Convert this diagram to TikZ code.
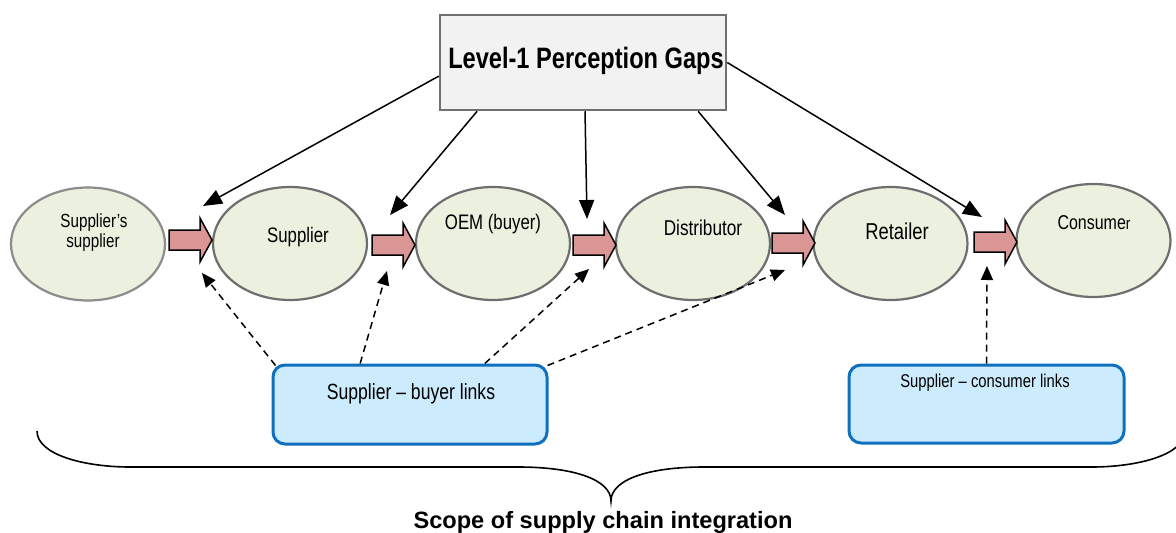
\documentclass[tikz,border=0pt]{standalone}
\usepackage{fontspec}
\setmainfont{Liberation Sans}
\newfontfamily\narrowsans{Liberation Sans}[FakeStretch=0.8]
\usetikzlibrary{arrows.meta,shapes.geometric,calc}

\definecolor{stagefill}{HTML}{EBF1DE}
\definecolor{stageline}{HTML}{6E6E6E}
\definecolor{firstline}{HTML}{8C8C8C}
\definecolor{flowfill}{HTML}{D99694}
\definecolor{gapfill}{HTML}{F2F2F2}
\definecolor{gapline}{HTML}{707070}
\definecolor{linkfill}{HTML}{CCEBFC}
\definecolor{linkline}{HTML}{1070C0}

\tikzset{
  stage/.style={ellipse, draw=stageline, line width=2.2pt, fill=stagefill,
    minimum width=154pt, minimum height=113pt, inner sep=0pt},
  flowarrow/.style={draw=black, line width=1.5pt, fill=flowfill, line join=miter},
  flow/.pic={\draw[flowarrow] (0,-10) -- (31,-10) -- (31,-22) -- (43,0)
      -- (31,22) -- (31,10) -- (0,10) -- cycle;},
  gapbox/.style={draw=gapline, line width=2.5pt, fill=gapfill,
    minimum width=286pt, minimum height=95pt, inner sep=0pt},
  linkbox/.style={draw=linkline, line width=3pt, fill=linkfill,
    rounded corners=12pt, inner sep=0pt},
  gaparrow/.style={line width=1.5pt, -{Triangle[length=19pt,width=15pt]}},
  linkarrow/.style={line width=1.5pt, dash pattern=on 7pt off 5pt,
    -{Triangle[length=14pt,width=12pt]}},
  lbl/.style={anchor=base, inner sep=0pt, font=\narrowsans},
  brace/.style={line width=1.6pt},
}

\begin{document}
\begin{tikzpicture}[x=1pt,y=-1pt]
\useasboundingbox (0,0) rectangle (1176,533);

% supply chain stages
\node[stage, draw=firstline] (ss)  at (88,244)   {};
\node[stage] (sup) at (290,243.5) {};
\node[stage] (oem) at (493,243.5) {};
\node[stage] (dis) at (693,243.5) {};
\node[stage] (ret) at (890.5,243.5) {};
\node[stage] (con) at (1093.5,240.5) {};

\node[lbl] (ssA) at (94,227) {\fontsize{19}{22}\selectfont Supplier’s};
\node[lbl] (ssB) at (93,247) {\fontsize{19}{22}\selectfont supplier};
\node[lbl] (supL) at (298,242) {\fontsize{21}{24}\selectfont Supplier};
\node[lbl] (oemL) at (493,229) {\fontsize{21}{24}\selectfont OEM (buyer)};
\node[lbl] (disL) at (703,235) {\fontsize{21.5}{24}\selectfont Distributor};
\node[lbl] (retL) at (897,239) {\fontsize{23}{26}\selectfont Retailer};
\node[lbl] (conL) at (1094,229) {\fontsize{20}{24}\selectfont Consume{\fontsize{17}{20}\selectfont r}};

% material flow between stages
\pic at (169,240) {flow};
\pic at (372,245) {flow};
\pic at (573,245) {flow};
\pic at (772,243) {flow};
\pic at (974,242) {flow};

% perception gaps box
\node[gapbox] (gaps) at (583,62.5) {};
\node[lbl] (gapsL) at (586,68) {\fontsize{29.5}{33}\selectfont\bfseries Level-1 Perception Gaps};

% link boxes
\node[linkbox, minimum width=274pt, minimum height=79pt] (sbl) at (410,404.5) {};
\node[lbl] (sblL) at (411,399) {\fontsize{22}{25}\selectfont Supplier – buyer links};
\node[linkbox, minimum width=275pt, minimum height=78pt] (scl) at (986.5,404) {};
\node[lbl] (sclL) at (985,387) {\fontsize{18.5}{22}\selectfont Supplier – consumer links};

% arrow targets at the interfaces
\coordinate (g1) at (203,206);
\coordinate (g2) at (390,215);
\coordinate (g3) at (587,219);
\coordinate (g4) at (785,215);
\coordinate (g5) at (982,217);
\coordinate (l1) at (202,273);
\coordinate (l2) at (387,271);
\coordinate (l3) at (589,269);
\coordinate (l4) at (785,270);
\coordinate (l5) at (987,266);

% perception gaps at each interface
\draw[gaparrow] ($(gaps.north west)!0.64!(gaps.south west)$) -- (g1);
\draw[gaparrow] ($(gaps.south west)!0.133!(gaps.south east)$) -- (g2);
\draw[gaparrow] ($(gaps.south west)!0.507!(gaps.south east)$) -- (g3);
\draw[gaparrow] ($(gaps.south west)!0.899!(gaps.south east)$) -- (g4);
\draw[gaparrow] (gaps.east) -- (g5);

% supplier links
\draw[linkarrow] ($(sbl.north west)+(4,2)$) -- (l1);
\draw[linkarrow] ($(sbl.north west)!0.32!(sbl.north east)$) -- (l2);
\draw[linkarrow] ($(sbl.north west)!0.77!(sbl.north east)$) -- (l3);
\draw[linkarrow] ($(sbl.north east)+(-1,2)$) -- (l4);
\draw[linkarrow] (scl.north) -- (l5);

% scope brace
\draw[brace] (37,431) .. controls (37,455) and (85,467) .. (130,467)
  -- (518,467) .. controls (575,467) and (611,480) .. (611,501)
  .. controls (611,480) and (647,467) .. (704,467)
  -- (1092,467) .. controls (1137,467) and (1185,455) .. (1185,431);
\node[anchor=base, inner sep=0pt, font=\bfseries\fontsize{23.6}{27}\selectfont] (scope)
  at (603,528) {Scope of supply chain integration};
\end{tikzpicture}
\end{document}
